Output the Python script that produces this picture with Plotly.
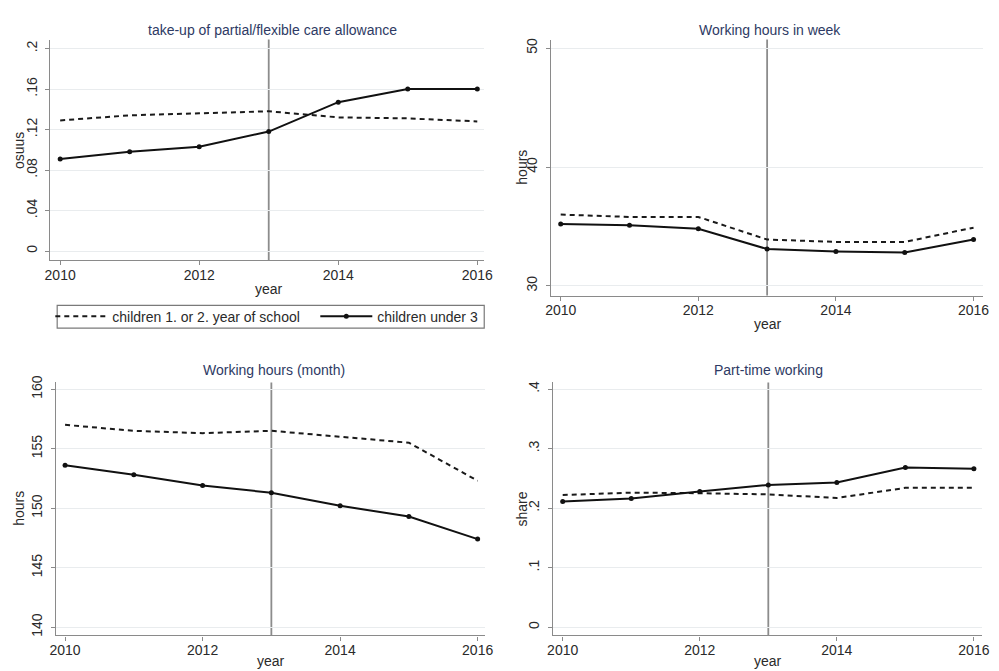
import plotly.graph_objects as go

# ---- data -------------------------------------------------------------
years = [2010, 2011, 2012, 2013, 2014, 2015, 2016]
reform_year = 2013

series_names = ["children 1. or 2. year of school", "children under 3"]

takeup_school = [0.129, 0.134, 0.136, 0.138, 0.132, 0.131, 0.128]
takeup_under3 = [0.091, 0.098, 0.103, 0.118, 0.147, 0.160, 0.160]

week_school = [36.0, 35.8, 35.8, 33.9, 33.7, 33.7, 34.9]
week_under3 = [35.2, 35.1, 34.8, 33.1, 32.9, 32.8, 33.9]

month_school = [157.0, 156.5, 156.3, 156.5, 156.0, 155.5, 152.3]
month_under3 = [153.6, 152.8, 151.9, 151.3, 150.2, 149.3, 147.4]

part_school = [0.222, 0.226, 0.225, 0.223, 0.217, 0.234, 0.234]
part_under3 = [0.211, 0.216, 0.228, 0.239, 0.243, 0.268, 0.266]

x_ticks = [2010, 2012, 2014, 2016]

takeup_ticks = [0, 0.04, 0.08, 0.12, 0.16, 0.2]
takeup_labels = ["0", ".04", ".08", ".12", ".16", ".2"]
week_ticks = [30, 40, 50]
week_labels = ["30", "40", "50"]
month_ticks = [140, 145, 150, 155, 160]
month_labels = ["140", "145", "150", "155", "160"]
part_ticks = [0, 0.1, 0.2, 0.3, 0.4]
part_labels = ["0", ".1", ".2", ".3", ".4"]

panel_titles = ["take-up of partial/flexible care allowance", "Working hours in week",
                "Working hours (month)", "Part-time working"]
y_titles = ["osuus", "hours", "hours", "share"]

# ---- page geometry (pixels) --------------------------------------------
W, H = 999, 671


def fx(p):
    return p / W


def fy(p):
    return 1 - p / H


panels = [
    dict(school=takeup_school, under3=takeup_under3, ticks=takeup_ticks, labels=takeup_labels,
         box=(44, 485, 33, 256), xr=[2009.858, 2016.10], yr=[-0.0088, 0.2088],
         title_xy=(270, 23), ytitle_xy=(12, 145), xtitle_xy=(266, 285)),
    dict(school=week_school, under3=week_under3, ticks=week_ticks, labels=week_labels,
         box=(553, 992, 33, 292), xr=[2009.861, 2016.139], yr=[29.19, 50.72],
         title_xy=(775, 23), ytitle_xy=(523, 162), xtitle_xy=(773, 321)),
    dict(school=month_school, under3=month_under3, ticks=month_ticks, labels=month_labels,
         box=(50, 486, 380, 636), xr=[2009.871, 2016.11], yr=[139.31, 160.56],
         title_xy=(271, 367), ytitle_xy=(12, 507), xtitle_xy=(268, 662)),
    dict(school=part_school, under3=part_under3, ticks=part_ticks, labels=part_labels,
         box=(555, 991, 380, 636), xr=[2009.86, 2016.12], yr=[-0.0138, 0.411],
         title_xy=(774, 367), ytitle_xy=(523, 508), xtitle_xy=(773, 662)),
]

FONT = "Liberation Sans, Arial, sans-serif"
AXIS_COL = "#8a8a8a"
GRID_COL = "#e9ecee"
TEXT_COL = "#2a2a2a"
TITLE_COL = "#2e3a64"

fig = go.Figure()
annotations = []
shapes = []

for i, p in enumerate(panels):
    n = "" if i == 0 else str(i + 1)
    xa, ya = "x" + n, "y" + n
    x0, x1, y0, y1 = p["box"]

    fig.add_trace(go.Scatter(
        x=years, y=p["school"], mode="lines", name=series_names[0],
        line=dict(color="#1a1a1a", width=2, dash="5px,4px"),
        xaxis=xa, yaxis=ya, showlegend=(i == 0), legendrank=1,
    ))
    fig.add_trace(go.Scatter(
        x=years, y=p["under3"], mode="lines+markers", name=series_names[1],
        line=dict(color="#111111", width=2),
        marker=dict(color="#111111", size=5),
        xaxis=xa, yaxis=ya, showlegend=(i == 0), legendrank=2,
    ))

    axis_common = dict(
        showline=True, linecolor=AXIS_COL, linewidth=1.3, mirror=False,
        ticks="outside", ticklen=4, tickcolor=AXIS_COL, tickwidth=1,
        tickfont=dict(family=FONT, size=14, color=TEXT_COL),
        zeroline=False, fixedrange=True,
    )
    fig.layout["xaxis" + n] = dict(
        axis_common, domain=[fx(x0), fx(x1)], range=p["xr"], anchor=ya,
        tickvals=x_ticks, ticktext=[str(t) for t in x_ticks], showgrid=False,
        ticklabelstandoff=-2,
    )
    fig.layout["yaxis" + n] = dict(
        axis_common, domain=[fy(y1), fy(y0)], range=p["yr"], anchor=xa,
        tickvals=p["ticks"], ticktext=p["labels"], tickangle=-90,
        showgrid=True, gridcolor=GRID_COL, gridwidth=1,
        ticklabelstandoff=3,
    )

    # reference line at the reform year
    shapes.append(dict(type="line", xref=xa, yref=ya + " domain", x0=reform_year, x1=reform_year,
                       y0=0, y1=1, line=dict(color="#8c8c8c", width=1.8), layer="below"))

    tx, ty = p["title_xy"]
    annotations.append(dict(text=panel_titles[i], x=fx(tx), y=fy(ty), xref="paper", yref="paper",
                            showarrow=False, xanchor="center", yanchor="middle",
                            font=dict(family=FONT, size=14, color=TITLE_COL)))
    yx, yy = p["ytitle_xy"]
    annotations.append(dict(text=y_titles[i], x=fx(yx), y=fy(yy), xref="paper", yref="paper",
                            showarrow=False, xanchor="center", yanchor="middle", textangle=-90,
                            font=dict(family=FONT, size=14, color=TEXT_COL)))
    xx, xy = p["xtitle_xy"]
    annotations.append(dict(text="year", x=fx(xx), y=fy(xy), xref="paper", yref="paper",
                            showarrow=False, xanchor="center", yanchor="middle",
                            font=dict(family=FONT, size=14, color=TEXT_COL)))

# frame around the legend under the first panel
shapes.append(dict(type="rect", xref="paper", yref="paper",
                   x0=fx(51), x1=fx(485), y0=fy(325), y1=fy(302),
                   line=dict(color="#7a7a7a", width=1.2), fillcolor="rgba(0,0,0,0)"))

fig.update_layout(
    width=W, height=H,
    margin=dict(l=0, r=0, t=0, b=0),
    paper_bgcolor="white", plot_bgcolor="white",
    showlegend=True,
    legend=dict(
        orientation="h", x=fx(44), y=fy(313.5), xanchor="left", yanchor="middle",
        borderwidth=0, bgcolor="rgba(0,0,0,0)",
        font=dict(family=FONT, size=14, color=TEXT_COL),
        entrywidth=198, entrywidthmode="pixels", itemwidth=52,
        traceorder="normal",
    ),
    annotations=annotations,
    shapes=shapes,
)

fig.write_html("out.html")
